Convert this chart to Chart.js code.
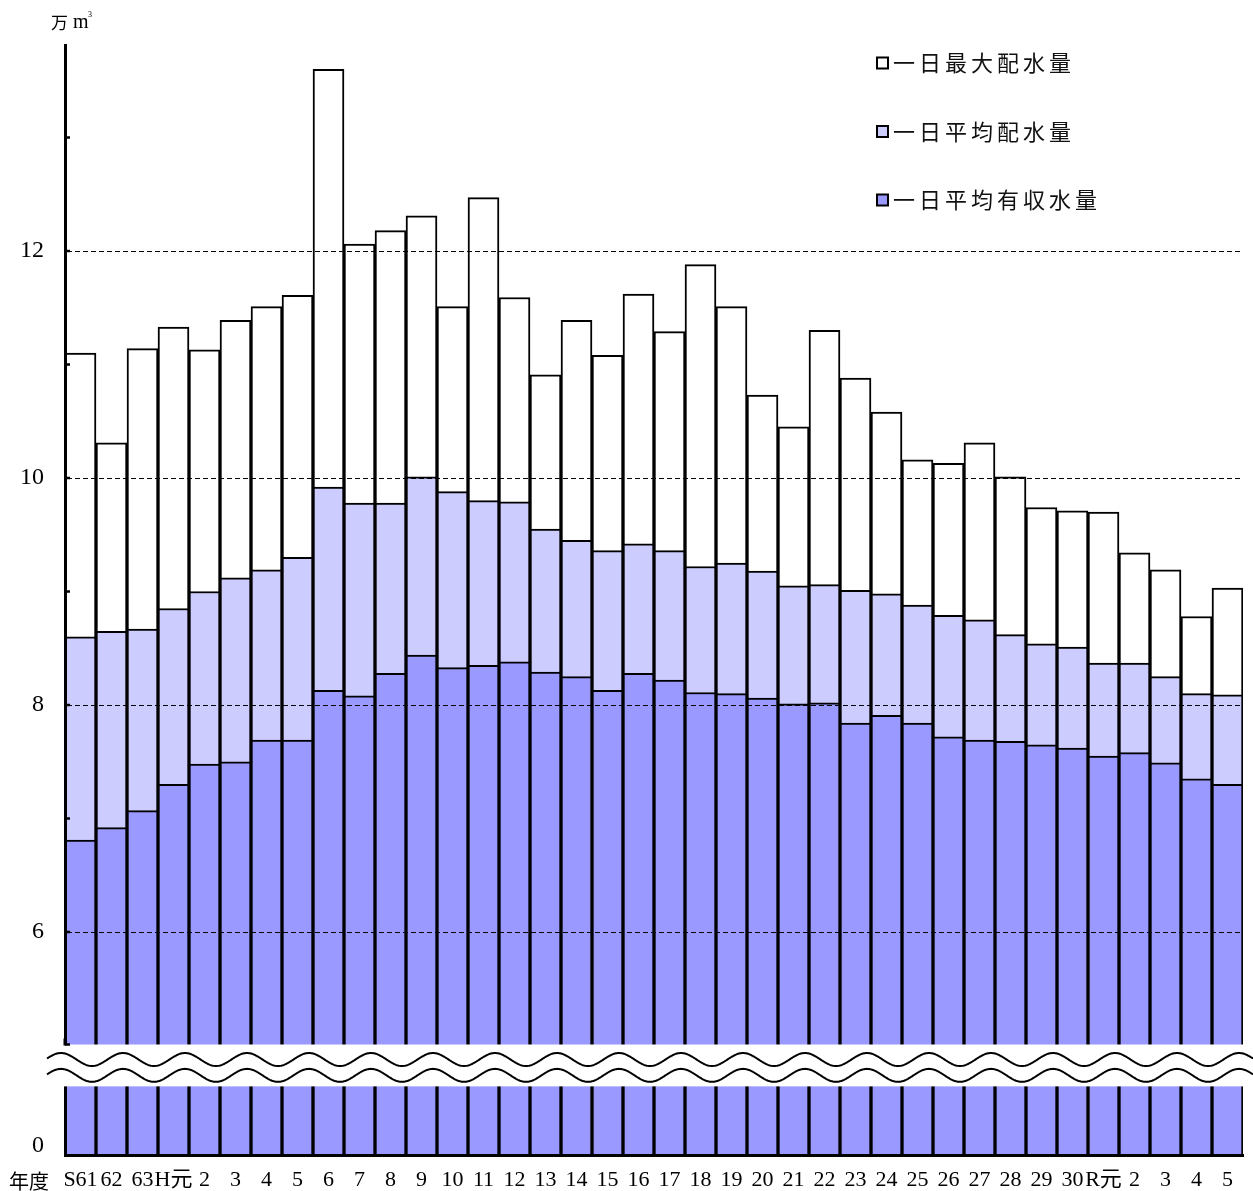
<!DOCTYPE html>
<html>
<head>
<meta charset="utf-8">
<script src="https://cdn.jsdelivr.net/npm/chart.js@4.4.1/dist/chart.umd.min.js"></script>
<style>
  html, body { margin: 0; padding: 0; background: #fff; }
  #wrap { position: relative; width: 1253px; height: 1191px; }
</style>
</head>
<body>
<div id="wrap"><canvas id="waterChart"></canvas></div>
<script>
    // 年度
    const years = ['S61', '62', '63', 'H元', '2', '3', '4', '5', '6', '7', '8', '9', '10',
        '11', '12', '13', '14', '15', '16', '17', '18', '19', '20', '21', '22', '23', '24',
        '25', '26', '27', '28', '29', '30', 'R元', '2', '3', '4', '5'];

    // 万m3
    const maxDaily = [11.10, 10.31, 11.14, 11.33, 11.13, 11.39, 11.51, 11.61, 13.60, 12.06,
        12.18, 12.31, 11.51, 12.47, 11.59, 10.91, 11.39, 11.08, 11.62, 11.29, 11.88, 11.51,
        10.73, 10.45, 11.30, 10.88, 10.58, 10.16, 10.13, 10.31, 10.01, 9.74, 9.71, 9.70,
        9.34, 9.19, 8.78, 9.03];
    const avgDaily = [8.60, 8.65, 8.67, 8.85, 9.00, 9.12, 9.19, 9.30, 9.92, 9.78, 9.78, 10.01,
        9.88, 9.80, 9.79, 9.55, 9.45, 9.36, 9.42, 9.36, 9.22, 9.25, 9.18, 9.05, 9.06, 9.01,
        8.98, 8.88, 8.79, 8.75, 8.62, 8.54, 8.51, 8.37, 8.37, 8.25, 8.10, 8.09];
    const avgRevenue = [6.81, 6.92, 7.07, 7.30, 7.48, 7.50, 7.69, 7.69, 8.13, 8.08, 8.28, 8.44,
        8.33, 8.35, 8.38, 8.29, 8.25, 8.13, 8.28, 8.22, 8.11, 8.10, 8.06, 8.01, 8.02, 7.84,
        7.91, 7.84, 7.72, 7.69, 7.68, 7.65, 7.62, 7.55, 7.58, 7.49, 7.35, 7.30];

    const seriesNames = ['一日最大配水量', '一日平均配水量', '一日平均有収水量'];
    const yLabelValues = [6, 8, 10, 12];
    const yTickMarks = [5, 6, 7, 8, 9, 10, 11, 12, 13];

    // 軸の省略部分 (5 より下を詰める)
    const axisMin = 4.03;
    const axisMax = 13.815;
    const breakTop = 5;
    const breakBottom = 4.64;

    const serif = "'Liberation Serif', 'Noto Sans CJK JP', serif";
    const cjk = "'Noto Sans CJK JP', sans-serif";

    // 目盛り・省略線・凡例・単位
    const decorPlugin = {
        id: 'decor',
        afterDraw(chart) {
            const { ctx, chartArea, scales: { x, y } } = chart;
            ctx.save();

            // 省略部分
            const top = y.getPixelForValue(breakTop) - 1;
            const bottom = y.getPixelForValue(breakBottom);
            ctx.fillStyle = '#fff';
            ctx.fillRect(0, top, chart.width, bottom - top);

            // 内側の目盛り
            ctx.strokeStyle = '#000';
            ctx.lineWidth = 2.5;
            yTickMarks.forEach(v => {
                const py = v === breakTop ? top : y.getPixelForValue(v);
                ctx.beginPath();
                ctx.moveTo(chartArea.left, py);
                ctx.lineTo(chartArea.left + 5, py);
                ctx.stroke();
            });
            ctx.lineWidth = 3;
            ctx.beginPath();
            ctx.moveTo(chartArea.left, top - 6);
            ctx.lineTo(chartArea.left, top + 1);
            ctx.stroke();

            const period = 2 * (x.getPixelForValue(1) - x.getPixelForValue(0));
            const phase = chartArea.left - 4;
            const amp = 6.5;
            ctx.lineWidth = 2;
            [top + 15, bottom - 11].forEach(cy => {
                ctx.beginPath();
                for (let px = chartArea.left - 18; px <= chart.width; px++) {
                    const py = cy - amp * Math.cos(2 * Math.PI * (px - phase) / period);
                    if (px === chartArea.left - 18) ctx.moveTo(px, py);
                    else ctx.lineTo(px, py);
                }
                ctx.stroke();
            });

            // 凡例
            const lx = 877;
            chart.data.datasets.forEach((ds, i) => {
                const cy = 63 + i * 68.5;
                ctx.fillStyle = ds.backgroundColor;
                ctx.fillRect(lx, cy - 5.5, 11, 11);
                ctx.lineWidth = 2;
                ctx.strokeStyle = '#000';
                ctx.strokeRect(lx, cy - 5.5, 11, 11);
                ctx.fillStyle = '#111';
                ctx.font = '22px ' + cjk;
                ctx.letterSpacing = '4px';
                ctx.textBaseline = 'middle';
                ctx.textAlign = 'left';
                ctx.fillText(ds.label, lx + 16, cy);
            });
            ctx.letterSpacing = '0px';

            // 単位
            ctx.fillStyle = '#000';
            ctx.textBaseline = 'middle';
            ctx.font = '17px ' + cjk;
            ctx.fillText('万', 51, 23);
            ctx.font = '20px ' + serif;
            ctx.fillText('m', 73, 23);
            ctx.font = '8px ' + serif;
            ctx.fillText('3', 88, 15);

            // 年度
            ctx.font = '20px ' + cjk;
            ctx.fillText('年度', 9, 1181);

            ctx.restore();
        }
    };

    const ctxWater = document.getElementById('waterChart');
    const waterChart = new Chart(ctxWater.getContext('2d'), {
        type: 'bar',
        data: {
            labels: years,
            datasets: [
                {
                    label: seriesNames[0],
                    data: maxDaily,
                    backgroundColor: '#ffffff',
                    order: 3
                },
                {
                    label: seriesNames[1],
                    data: avgDaily,
                    backgroundColor: '#ccccff',
                    order: 2
                },
                {
                    label: seriesNames[2],
                    data: avgRevenue,
                    backgroundColor: '#9999ff',
                    order: 1
                }
            ]
        },
        options: {
            responsive: true,
            maintainAspectRatio: false,
            animation: false,
            layout: { padding: { top: 45, right: 10, left: 0, bottom: 0 } },
            datasets: {
                bar: {
                    grouped: false,
                    barPercentage: 1,
                    categoryPercentage: 1,
                    borderColor: '#000',
                    borderWidth: 2
                }
            },
            plugins: {
                legend: { display: false },
                tooltip: { enabled: false }
            },
            scales: {
                x: {
                    grid: { display: false, drawTicks: false },
                    border: { color: '#000', width: 3, z: 1 },
                    ticks: {
                        color: '#000',
                        font: { family: serif, size: 22 },
                        padding: 11,
                        maxRotation: 0,
                        autoSkip: false
                    },
                    afterFit(scale) { scale.height = 35; }
                },
                y: {
                    min: axisMin,
                    max: axisMax,
                    afterBuildTicks(scale) {
                        scale.ticks = [{ value: axisMin + 0.09 }].concat(yLabelValues.map(v => ({ value: v })));
                    },
                    grid: {
                        color: c => yLabelValues.includes(c.tick.value) ? '#000' : 'rgba(0,0,0,0)',
                        lineWidth: 1,
                        drawTicks: false,
                        z: 1
                    },
                    border: { color: '#000', width: 3, dash: [5, 3], z: 1 },
                    ticks: {
                        color: '#000',
                        font: { family: serif, size: 24 },
                        padding: 21,
                        callback: v => v < breakBottom ? '0' : v
                    },
                    afterFit(scale) { scale.width = 65; }
                }
            }
        },
        plugins: [decorPlugin]
    });
</script>
</body>
</html>
